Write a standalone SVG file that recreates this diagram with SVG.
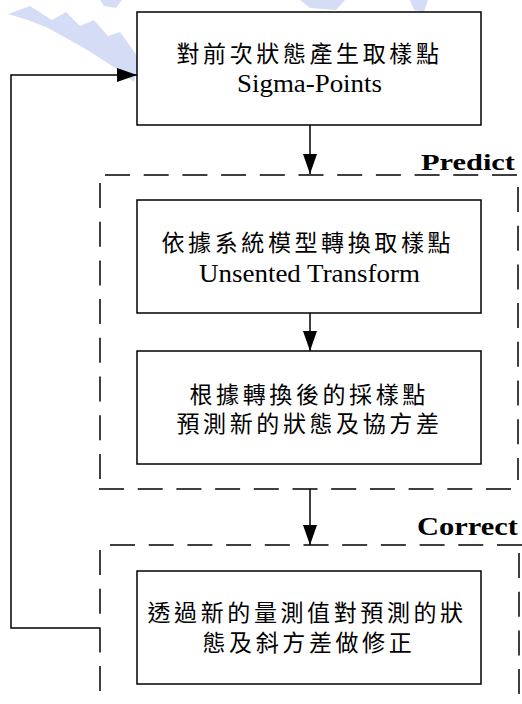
<svg xmlns="http://www.w3.org/2000/svg" width="522" height="704" viewBox="0 0 522 704">
<style>
.box{fill:#fff;stroke:#000;stroke-width:1.5}
.cn{font-family:"Liberation Serif","Noto Sans CJK TC",serif;font-size:23px;letter-spacing:3.6px;fill:#000}
.en{font-family:"Liberation Serif","Times New Roman",serif;font-size:26px;fill:#000}
.lbl{font-family:"Liberation Serif","Times New Roman",serif;font-size:24px;font-weight:bold;fill:#000}
.dash{stroke:#000;stroke-width:1.5;stroke-dasharray:25 13.7;fill:none}
.conn{stroke:#000;stroke-width:1.5;fill:none}
.wm{fill:#c3cdf1;opacity:0.7}
</style>
<defs>
<marker id="ah" markerUnits="userSpaceOnUse" markerWidth="20" markerHeight="14" refX="20" refY="7" orient="auto">
<path d="M0,0 L20,7 L0,14 Z" fill="#000"/>
</marker>
</defs>
<rect width="522" height="704" fill="#fff"/>
<g id="watermark">
<polygon class="wm" points="8,14 30,6 52,20 66,12 80,26 94,20 108,36 120,32 140,60 134,82 118,70 100,58 84,48 66,38 48,28 28,20"/>
<polygon class="wm" points="100,0 122,0 116,8 104,6"/>
<polygon class="wm" points="300,0 345,0 336,10 310,8"/>
<polygon class="wm" points="410,0 428,0 424,12 414,10"/>
</g>
<g id="predict-frame">
<line class="dash" x1="105" y1="175" x2="518" y2="175"/>
<line class="dash" x1="100" y1="183" x2="100" y2="480"/>
<line class="dash" x1="518" y1="187" x2="518" y2="480"/>
<line class="dash" x1="99" y1="489" x2="518" y2="489"/>
<text class="lbl" x="421" y="170" textLength="94" lengthAdjust="spacingAndGlyphs">Predict</text>
</g>
<g id="correct-frame">
<line class="dash" x1="110" y1="545" x2="522" y2="545"/>
<line class="dash" x1="100" y1="550" x2="100" y2="704"/>
<line class="dash" x1="519" y1="553" x2="519" y2="704"/>
<text class="lbl" x="417" y="535" textLength="101" lengthAdjust="spacingAndGlyphs" style="font-size:25px">Correct</text>
</g>
<g id="connectors">
<line class="conn" x1="310" y1="125" x2="310" y2="174" marker-end="url(#ah)"/>
<line class="conn" x1="310" y1="313" x2="310" y2="351" marker-end="url(#ah)"/>
<line class="conn" x1="310" y1="489" x2="310" y2="545" marker-end="url(#ah)"/>
<polyline class="conn" points="100,628 11,628 11,75 137,75" marker-end="url(#ah)"/>
</g>
<g id="node-sigma">
<rect class="box" x="137" y="12" width="344" height="113"/>
<text class="cn" x="176.5" y="62">對前次狀態產生取樣點</text>
<text class="en" x="309.5" y="92" text-anchor="middle" textLength="145" lengthAdjust="spacingAndGlyphs">Sigma-Points</text>
</g>
<g id="node-ut">
<rect class="box" x="137" y="200" width="344" height="113"/>
<text class="cn" x="161.5" y="250.5">依據系統模型轉換取樣點</text>
<text class="en" x="309.5" y="282" text-anchor="middle" textLength="221" lengthAdjust="spacingAndGlyphs">Unsented Transform</text>
</g>
<g id="node-predict">
<rect class="box" x="137" y="351" width="344" height="113"/>
<text class="cn" x="189.5" y="402.5">根據轉換後的採樣點</text>
<text class="cn" x="176.5" y="431.5">預測新的狀態及協方差</text>
</g>
<g id="node-correct">
<rect class="box" x="137" y="571" width="344" height="113"/>
<text class="cn" x="147.5" y="620.5">透過新的量測值對預測的狀</text>
<text class="cn" x="202.5" y="650.5">態及斜方差做修正</text>
</g>
</svg>
